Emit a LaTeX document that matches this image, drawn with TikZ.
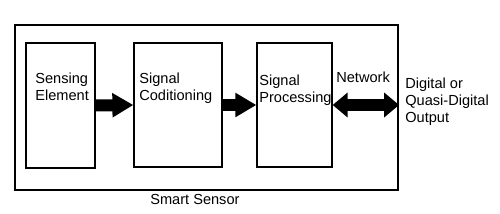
\documentclass[tikz,border=0pt]{standalone}
\usepackage{fontspec}
\setmainfont{Liberation Sans}
\usetikzlibrary{arrows.meta,positioning}
\tikzset{
  frame/.style={draw=black,line width=0.45mm,inner sep=0pt},
  block/.style={draw=black,line width=0.25mm,fill=white,inner sep=0pt},
  txt/.style={font=\fontsize{8.3}{9.8}\selectfont,align=left,inner sep=0pt,anchor=west},
  fatarrow/.style={-{Triangle[length=4.2mm,width=4.6mm]},line width=2.4mm},
  dblarrow/.style={{Triangle[length=3mm,width=4.8mm]}-{Triangle[length=3mm,width=4.8mm]},line width=2.4mm}
}
\begin{document}
\begin{tikzpicture}[x=0.2mm,y=-0.2mm]
    \useasboundingbox (0,0) rectangle (500,214);
    % outer smart sensor frame
    \node[frame,minimum width=76.6mm,minimum height=33mm] (smart) at (206.5,107.5) {};
    % stages
    \node[block,minimum width=13.8mm,minimum height=25mm] (sense) at (60.5,105.5) {};
    \node[block,minimum width=17.6mm,minimum height=24.8mm] (cond) at (178,105) {};
    \node[block,minimum width=15mm,minimum height=24.8mm] (proc) at (294.5,105) {};
    \node[txt] (senselbl) at (35,86.5) {Sensing\\Element};
    \node[txt] (condlbl) at (139,88.5) {Signal\\Coditioning};
    \node[txt] (proclbl) at (259,90) {Signal\\Processing};
    \node[txt] (netlbl) at (336,77) {Network};
    \node[txt] (outlbl) at (405,102) {Digital or\\Quasi-Digital\\Output};
    \node[txt] (smartlbl) at (150,199) {Smart Sensor};
    % connectors
    \draw[fatarrow] (sense.east) -- (cond.west);
    \draw[fatarrow] (cond.east) -- (proc.west);
    \draw[dblarrow] (proc.east) -- (proc.east -| smart.east);
  \end{tikzpicture}
\end{document}
